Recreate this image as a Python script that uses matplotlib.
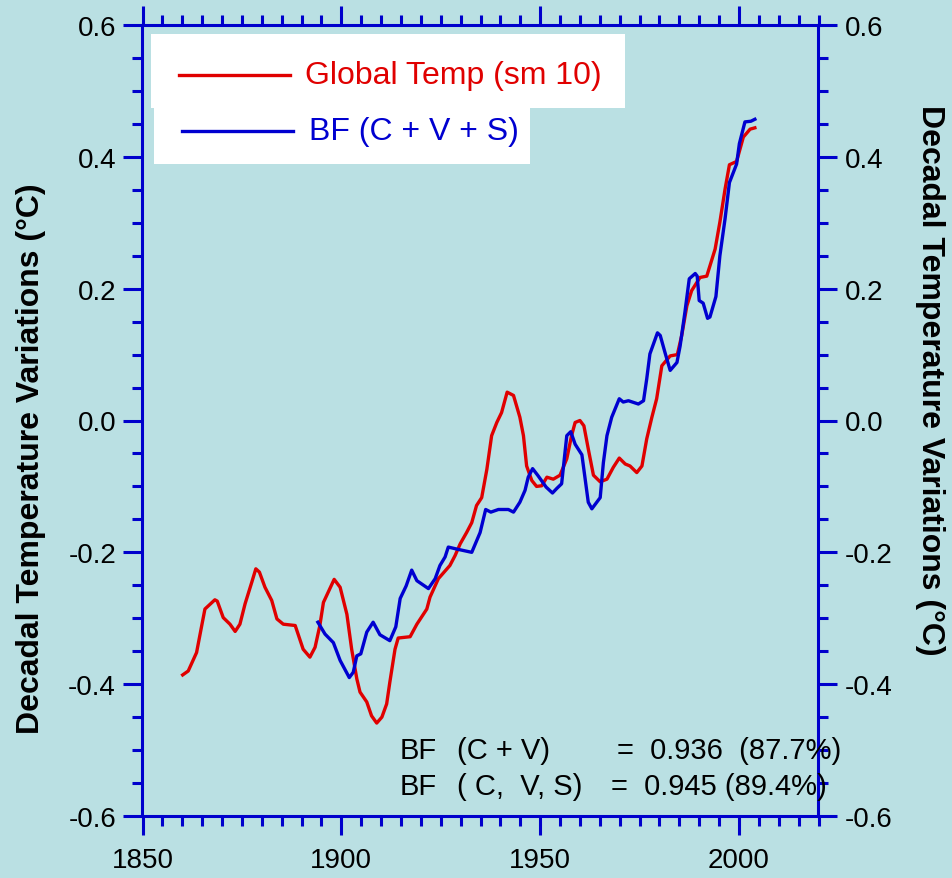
import matplotlib
matplotlib.use("Agg")
import matplotlib.pyplot as plt
from matplotlib.patches import Rectangle
from matplotlib.lines import Line2D
from matplotlib.ticker import MultipleLocator

plt.rcParams['font.family'] = ['Liberation Sans', 'DejaVu Sans']

# Global temperature, 10-yr smoothed (red)
temp_years = [1860.1, 1861.5, 1863.6, 1864.9, 1865.7, 1868.2, 1868.8, 1870.3, 1872.0, 1873.3,
              1874.5, 1875.8, 1877.5, 1878.5, 1879.4, 1880.8, 1882.5, 1883.8, 1885.4, 1888.4,
              1890.4, 1892.1, 1893.4, 1894.6, 1895.5, 1898.2, 1899.7, 1901.4, 1902.6, 1903.9,
              1904.7, 1906.4, 1907.6, 1908.9, 1910.2, 1911.4, 1912.2, 1913.5, 1914.3, 1917.3,
              1919.0, 1921.5, 1922.3, 1924.4, 1927.3, 1928.6, 1929.9, 1931.5, 1932.8, 1934.0,
              1935.3, 1936.6, 1937.8, 1939.1, 1940.3, 1941.7, 1943.3, 1944.9, 1945.8, 1946.6,
              1947.9, 1949.1, 1950.4, 1951.7, 1953.3, 1955.0, 1956.7, 1957.9, 1958.8, 1960.0,
              1961.0, 1962.1, 1963.4, 1965.1, 1966.8, 1968.4, 1969.9, 1971.4, 1972.6, 1974.3,
              1975.6, 1976.8, 1978.1, 1979.3, 1980.6, 1982.7, 1984.5, 1985.6, 1986.9, 1988.1,
              1990.2, 1991.9, 1994.0, 1995.2, 1996.5, 1997.6, 1999.4, 2001.1, 2002.8, 2004.0]
temp_vals = [-0.386, -0.380, -0.352, -0.311, -0.286, -0.272, -0.274, -0.299, -0.309, -0.320,
             -0.309, -0.278, -0.245, -0.225, -0.230, -0.253, -0.273, -0.301, -0.309, -0.311,
             -0.347, -0.359, -0.344, -0.311, -0.276, -0.241, -0.253, -0.294, -0.347, -0.392,
             -0.412, -0.427, -0.448, -0.459, -0.450, -0.430, -0.397, -0.347, -0.330, -0.328,
             -0.309, -0.286, -0.268, -0.240, -0.220, -0.205, -0.187, -0.170, -0.155, -0.129,
             -0.117, -0.074, -0.023, -0.003, 0.012, 0.043, 0.038, 0.005, -0.023, -0.069,
             -0.091, -0.100, -0.099, -0.086, -0.089, -0.083, -0.058, -0.023, -0.003, 0.000,
             -0.008, -0.043, -0.083, -0.093, -0.089, -0.071, -0.057, -0.066, -0.069, -0.079,
             -0.069, -0.028, 0.005, 0.033, 0.083, 0.098, 0.100, 0.129, 0.174, 0.197,
             0.217, 0.219, 0.260, 0.301, 0.351, 0.388, 0.393, 0.430, 0.442, 0.444]

# BF (C + V + S) reconstruction (blue)
bf_years = [1894.1, 1895.9, 1898.0, 1899.7, 1902.0, 1903.0, 1903.9, 1904.9, 1906.4, 1908.0,
            1909.7, 1912.2, 1913.7, 1914.8, 1916.3, 1917.7, 1919.0, 1921.9, 1923.6, 1924.8,
            1926.1, 1926.9, 1929.0, 1932.8, 1934.9, 1936.3, 1937.6, 1939.5, 1942.0, 1943.3,
            1944.9, 1946.2, 1947.0, 1948.1, 1949.5, 1951.5, 1953.1, 1954.2, 1955.4, 1956.7,
            1957.7, 1958.8, 1960.5, 1961.3, 1962.1, 1963.0, 1965.1, 1965.9, 1966.8, 1968.0,
            1969.9, 1970.9, 1972.2, 1974.7, 1976.0, 1976.8, 1977.6, 1979.5, 1980.2, 1981.4,
            1982.7, 1984.4, 1985.2, 1986.4, 1987.5, 1989.0, 1989.5, 1990.0, 1991.0, 1992.1,
            1992.7, 1994.2, 1995.2, 1996.5, 1997.6, 1999.4, 2000.1, 2001.5, 2003.0, 2004.0]
bf_vals = [-0.306, -0.324, -0.337, -0.364, -0.390, -0.382, -0.357, -0.354, -0.321, -0.306,
           -0.325, -0.334, -0.313, -0.270, -0.251, -0.227, -0.243, -0.255, -0.240, -0.220,
           -0.207, -0.192, -0.195, -0.200, -0.170, -0.135, -0.139, -0.135, -0.135, -0.139,
           -0.124, -0.106, -0.086, -0.073, -0.084, -0.101, -0.110, -0.103, -0.096, -0.023,
           -0.017, -0.036, -0.052, -0.088, -0.124, -0.134, -0.117, -0.064, -0.023, 0.005,
           0.033, 0.028, 0.030, 0.025, 0.030, 0.063, 0.101, 0.133, 0.129, 0.103,
           0.076, 0.088, 0.113, 0.164, 0.215, 0.223, 0.219, 0.182, 0.178, 0.155,
           0.157, 0.188, 0.250, 0.306, 0.361, 0.389, 0.420, 0.453, 0.454, 0.457]

legend_labels = ["Global Temp (sm 10)", "BF (C + V + S)"]
ylabel = "Decadal Temperature Variations (°C)"

BG = '#bae0e3'
SPINE = '#0000cc'
RED = '#e00000'
BLUE = '#0000d0'
W, H = 953, 879

fig = plt.figure(figsize=(W / 100, H / 100), dpi=100, facecolor=BG)
ax = fig.add_axes([142.5 / W, 1 - 817 / H, (818.5 - 142.5) / W, (817 - 26) / H])
ax.set_facecolor(BG)

ax.plot(temp_years, temp_vals, color=RED, lw=2.4)
ax.plot(bf_years, bf_vals, color=BLUE, lw=2.4)

ax.set_xlim(1850, 2020)
ax.set_ylim(-0.6, 0.6)
ax.xaxis.set_major_locator(MultipleLocator(50))
ax.xaxis.set_minor_locator(MultipleLocator(5))
ax.yaxis.set_major_locator(MultipleLocator(0.2))
ax.yaxis.set_minor_locator(MultipleLocator(0.05))
ax.xaxis.set_major_formatter(matplotlib.ticker.FormatStrFormatter('%d'))
ax.yaxis.set_major_formatter(matplotlib.ticker.FormatStrFormatter('%.1f'))

for s in ax.spines.values():
    s.set_color(SPINE)
    s.set_linewidth(2.2)
ax.tick_params(which='both', direction='out', color=SPINE, width=2.2,
               top=True, right=True, labelright=True, labelsize=20)
ax.tick_params(which='major', length=14)
ax.tick_params(which='minor', length=7.5)
ax.tick_params(axis='y', pad=5)
ax.tick_params(axis='x', pad=8)

fig.text(31 / W, 1 - 459 / H, ylabel, rotation=90, ha='center', va='center',
         fontsize=23, fontweight='bold')
fig.text(930 / W, 1 - 380 / H, ylabel, rotation=270, ha='center', va='center',
         fontsize=23, fontweight='bold')

# legend: two stacked white boxes
def fx(px):
    return px / W

def fy(py):
    return 1 - py / H

fig.patches.append(Rectangle((fx(150.5), fy(108.5)), fx(625) - fx(150.5), fy(35) - fy(108.5),
                             transform=fig.transFigure, facecolor='white', edgecolor='none', zorder=5))
fig.patches.append(Rectangle((fx(154), fy(165)), fx(530) - fx(154), fy(108) - fy(165),
                             transform=fig.transFigure, facecolor='white', edgecolor='none', zorder=5))
fig.lines.append(Line2D([fx(179), fx(290)], [fy(76), fy(76)], transform=fig.transFigure,
                        color=RED, lw=2.4, zorder=6))
fig.lines.append(Line2D([fx(182), fx(293)], [fy(132), fy(132)], transform=fig.transFigure,
                        color=BLUE, lw=2.4, zorder=6))
fig.text(fx(305), fy(76), legend_labels[0], color=RED, fontsize=23, va='center', zorder=7)
fig.text(fx(309), fy(132), legend_labels[1], color=BLUE, fontsize=23, va='center', zorder=7)

# correlation notes
notes = [("BF", "(C + V)", "=  0.936  (87.7%)", 751, 617),
         ("BF", "( C,  V, S)", "=  0.945 (89.4%)", 787, 611)]
for a, b, c, py, xc in notes:
    fig.text(fx(400), fy(py), a, fontsize=21, va='center')
    fig.text(fx(457), fy(py), b, fontsize=21, va='center')
    fig.text(fx(xc), fy(py), c, fontsize=21, va='center')

fig.savefig('out.png', dpi=100, facecolor=BG)
